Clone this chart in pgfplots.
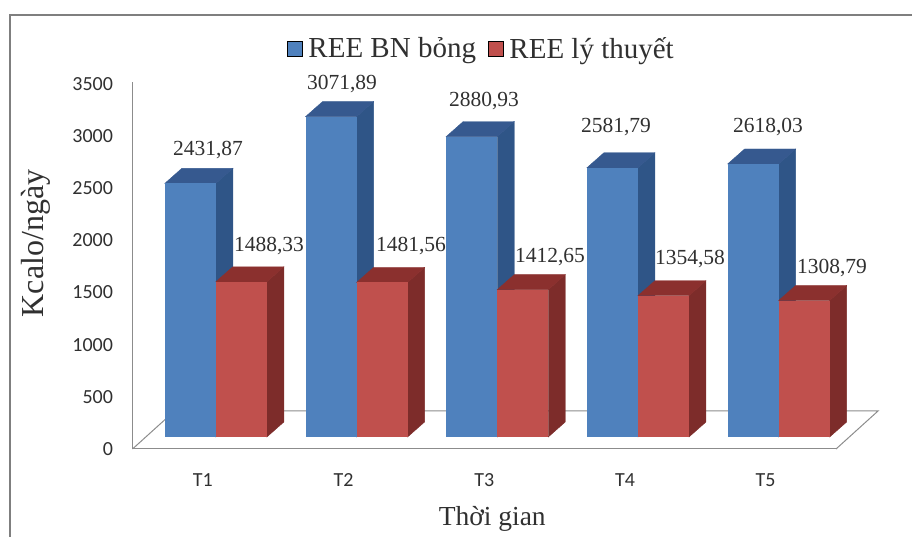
\documentclass[border=0pt]{standalone}
\usepackage{pgfplots}
\pgfplotsset{compat=1.18}
\usepackage{fontspec}
\setmainfont{Liberation Serif}
\newfontfamily\tickfont{Carlito}
\definecolor{bluefront}{HTML}{4F81BD}
\definecolor{blueside}{HTML}{2F5587}
\definecolor{bluetop}{HTML}{36598F}
\definecolor{redfront}{HTML}{C0504D}
\definecolor{redside}{HTML}{7D2C2A}
\definecolor{redtop}{HTML}{8B302E}
\definecolor{axisgrey}{HTML}{8C8C8C}
\definecolor{framegrey}{HTML}{7F7F7F}
\definecolor{labelgrey}{HTML}{303030}
% depth of the extruded prisms, in axis units
\def\dx{0.1208}
\def\dy{144}
\def\bw{0.3625}
% side and top faces of a bar whose front right edge sits at x=#1 with value #2
\newcommand{\prism}[4]{%
  \pgfmathsetmacro{\xl}{#1-\bw}%
  \pgfmathsetmacro{\xr}{#1+\dx}%
  \pgfmathsetmacro{\xm}{#1-\bw+\dx}%
  \pgfmathsetmacro{\yt}{#2+\dy}%
  \addplot[forget plot,sharp plot,draw=#3,line width=0.4pt,fill=#3] coordinates {(#1,0) (\xr,\dy) (\xr,\yt) (#1,#2)} -- cycle;
  \addplot[forget plot,sharp plot,draw=#4,line width=0.4pt,fill=#4] coordinates {(\xl,#2) (\xm,\yt) (\xr,\yt) (#1,#2)} -- cycle;
}
\pgfplotsset{
  front blue/.style={forget plot,ybar,bar width=51pt,bar shift=-25.5pt,draw=none,fill=bluefront},
  front red/.style={forget plot,ybar,bar width=51pt,bar shift=25.5pt,draw=none,fill=redfront},
}
\begin{document}
\begin{tikzpicture}[x=1pt,y=1pt]
\useasboundingbox (0,0) rectangle (912,537);
% chart frame
\draw[framegrey,line width=1.2pt] (10,0) -- (10,522) -- (912,522);
% value axis, category axis and floor
\begin{axis}[
  at={(132.5pt,88pt)},anchor=south west,
  scale only axis,width=703.5pt,height=365pt,
  xmin=0.5,xmax=5.5,ymin=0,ymax=3500,
  clip=false,
  axis x line*=bottom,axis y line*=left,
  axis line style={axisgrey,line width=1pt,-},
  xtick={1,2,3,4,5},xticklabels={T1,T2,T3,T4,T5},
  ytick={0,500,1000,1500,2000,2500,3000,3500},
  major tick length=0pt,
  tick style={draw=none},
  /pgf/number format/assume math mode=true,
  /pgf/number format/.cd,set thousands separator={},/pgfplots/.cd,
  tick label style={font=\tickfont\fontsize{20}{20}\selectfont,text=labelgrey},
  xticklabel style={yshift=-21pt},
  yticklabel style={xshift=-16pt},
  xlabel={Thời gian},
  xlabel style={font=\fontsize{27.5}{28}\selectfont,text=labelgrey,at={(axis description cs:0.5,0)},anchor=center,xshift=8pt,yshift=-70pt},
  ylabel={Kcalo/ngày},
  ylabel style={font=\fontsize{32}{32}\selectfont,text=labelgrey,at={(axis description cs:0,0.563)},anchor=center,yshift=96.5pt},
]
\draw[axisgrey,line width=1pt] (axis cs:0.5,3500) -- ++(0pt,2pt);
\draw[axisgrey,line width=1pt] (axis cs:0.5,0) -- ++(42pt,38pt) -- ++(703.5pt,0pt) -- (axis cs:5.5,0);
\end{axis}
% bars, standing on the raised plane of the floor
\begin{axis}[
  at={(145.5pt,100pt)},anchor=south west,
  scale only axis,width=703.5pt,height=365pt,
  xmin=0.5,xmax=5.5,ymin=0,ymax=3500,
  clip=false,hide axis,
  legend style={at={(0.4775,1.065)},anchor=center,draw=none,fill=none,legend columns=2,
    font=\fontsize{29}{29}\selectfont,text=labelgrey,
    /tikz/every odd column/.append style={column sep=4pt},
    /tikz/every even column/.append style={column sep=10pt}},
  legend image code/.code={\fill[#1] (0pt,-7.5pt) rectangle (15pt,7.5pt);},
]
\addlegendimage{fill=bluefront}
\addlegendimage{fill=redfront}
\addlegendentry{REE BN bỏng}
\addlegendentry{REE lý thuyết}
\prism{1}{2431.87}{blueside}{bluetop}
\addplot[front blue] coordinates {(1,2431.87)};
\prism{1.3625}{1488.33}{redside}{redtop}
\addplot[front red] coordinates {(1,1488.33)};
\prism{2}{3071.89}{blueside}{bluetop}
\addplot[front blue] coordinates {(2,3071.89)};
\prism{2.3625}{1481.56}{redside}{redtop}
\addplot[front red] coordinates {(2,1481.56)};
\prism{3}{2880.93}{blueside}{bluetop}
\addplot[front blue] coordinates {(3,2880.93)};
\prism{3.3625}{1412.65}{redside}{redtop}
\addplot[front red] coordinates {(3,1412.65)};
\prism{4}{2581.79}{blueside}{bluetop}
\addplot[front blue] coordinates {(4,2581.79)};
\prism{4.3625}{1354.58}{redside}{redtop}
\addplot[front red] coordinates {(4,1354.58)};
\prism{5}{2618.03}{blueside}{bluetop}
\addplot[front blue] coordinates {(5,2618.03)};
\prism{5.3625}{1308.79}{redside}{redtop}
\addplot[front red] coordinates {(5,1308.79)};
\end{axis}
% value labels
\begin{scope}[yshift=-1.5pt,every node/.style={font=\fontsize{21.5}{22}\selectfont,text=labelgrey,inner sep=0pt}]
\node at (208,388) {2431,87};
\node at (269,292) {1488,33};
\node at (342,454) {3071,89};
\node at (411,292) {1481,56};
\node at (484,437) {2880,93};
\node at (550,281) {1412,65};
\node at (690,279) {1354,58};
\node at (616,411) {2581,79};
\node at (768,411) {2618,03};
\node at (832,270) {1308,79};
\end{scope}
\end{tikzpicture}
\end{document}
